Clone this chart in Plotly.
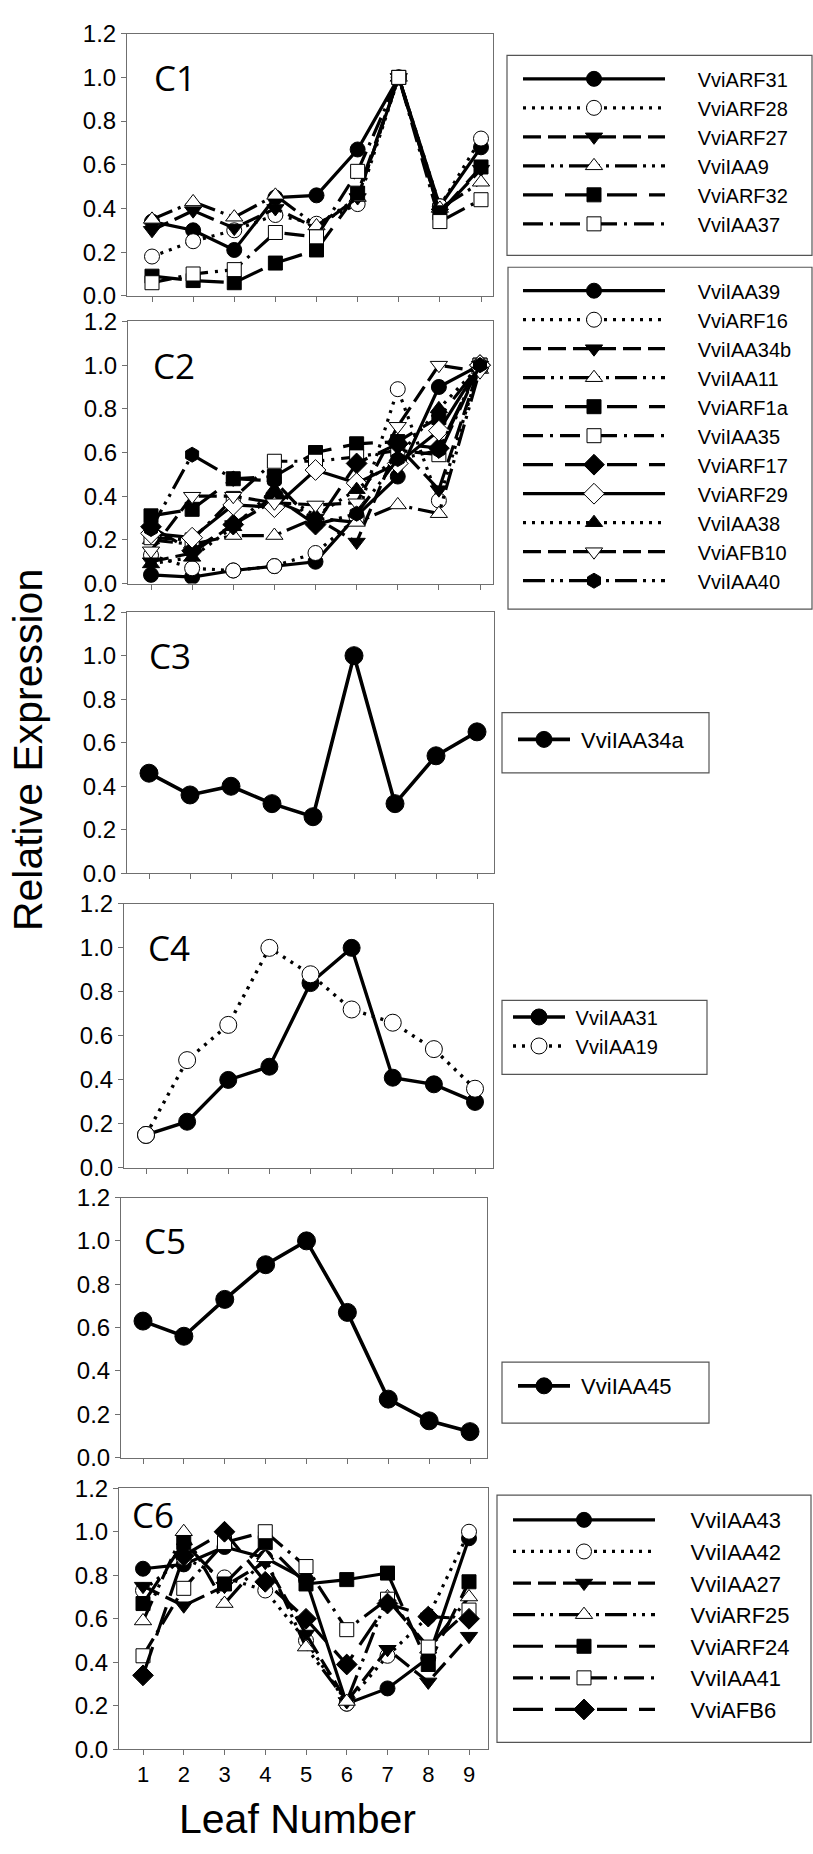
import plotly.graph_objects as go

FIG_W, FIG_H = 813, 1854

leaf_number = [1, 2, 3, 4, 5, 6, 7, 8, 9]
y_ticks = [0.0, 0.2, 0.4, 0.6, 0.8, 1.0, 1.2]

# ---- cluster C1 ----
VviARF31 = [0.34, 0.30, 0.21, 0.45, 0.46, 0.67, 1.00, 0.41, 0.68]
VviARF28 = [0.18, 0.25, 0.30, 0.37, 0.33, 0.42, 1.00, 0.41, 0.72]
VviARF27 = [0.30, 0.39, 0.31, 0.40, 0.31, 0.45, 1.00, 0.38, 0.58]
VviIAA9 = [0.35, 0.43, 0.36, 0.46, 0.32, 0.45, 1.00, 0.40, 0.52]
VviARF32 = [0.09, 0.07, 0.06, 0.15, 0.21, 0.47, 1.00, 0.38, 0.59]
VviIAA37 = [0.06, 0.10, 0.12, 0.29, 0.27, 0.57, 1.00, 0.34, 0.44]

# ---- cluster C2 ----
VviIAA39 = [0.04, 0.03, 0.06, 0.08, 0.10, 0.31, 0.49, 0.90, 1.00]
VviARF16 = [0.13, 0.07, 0.06, 0.08, 0.14, 0.30, 0.89, 0.38, 1.00]
VviIAA34b = [0.10, 0.14, 0.27, 0.38, 0.30, 0.19, 0.63, 0.43, 1.00]
VviIAA11 = [0.20, 0.18, 0.22, 0.22, 0.30, 0.28, 0.36, 0.32, 0.98]
VviARF1a = [0.31, 0.34, 0.48, 0.49, 0.60, 0.64, 0.65, 0.76, 1.00]
VviIAA35 = [0.21, 0.20, 0.39, 0.56, 0.56, 0.58, 0.61, 0.59, 1.00]
VviARF17 = [0.26, 0.15, 0.27, 0.40, 0.27, 0.55, 0.64, 0.62, 1.00]
VviARF29 = [0.23, 0.21, 0.36, 0.35, 0.52, 0.46, 0.55, 0.70, 1.00]
VviIAA38 = [0.09, 0.12, 0.26, 0.43, 0.31, 0.43, 0.58, 0.80, 1.00]
VviAFB10 = [0.15, 0.40, 0.40, 0.37, 0.36, 0.37, 0.72, 1.00, 0.97]
VviIAA40 = [0.25, 0.59, 0.48, 0.47, 0.27, 0.32, 0.57, 0.61, 1.00]

# ---- cluster C3 ----
VviIAA34a = [0.46, 0.36, 0.40, 0.32, 0.26, 1.00, 0.32, 0.54, 0.65]

# ---- cluster C4 ----
VviIAA31 = [0.15, 0.21, 0.40, 0.46, 0.84, 1.00, 0.41, 0.38, 0.30]
VviIAA19 = [0.15, 0.49, 0.65, 1.00, 0.88, 0.72, 0.66, 0.54, 0.36]

# ---- cluster C5 ----
VviIAA45 = [0.63, 0.56, 0.73, 0.89, 1.00, 0.67, 0.27, 0.17, 0.12]

# ---- cluster C6 ----
VviIAA43 = [0.83, 0.85, 0.93, 0.88, 0.78, 0.21, 0.28, 0.42, 0.97]
VviIAA42 = [0.73, 0.88, 0.79, 0.73, 0.50, 0.21, 0.43, 0.61, 1.00]
VviIAA27 = [0.75, 0.66, 0.75, 0.86, 0.53, 0.22, 0.46, 0.31, 0.52]
VviARF25 = [0.59, 1.00, 0.67, 0.88, 0.47, 0.22, 0.70, 0.46, 0.70]
VviARF24 = [0.67, 0.95, 0.76, 0.95, 0.76, 0.78, 0.81, 0.39, 0.77]
VviIAA41 = [0.43, 0.74, 0.95, 1.00, 0.84, 0.55, 0.69, 0.47, 0.64]
VviAFB6 = [0.34, 0.89, 1.00, 0.77, 0.60, 0.39, 0.67, 0.61, 0.60]

clusters = [
    ("C1", [("VviARF31", VviARF31), ("VviARF28", VviARF28), ("VviARF27", VviARF27),
            ("VviIAA9", VviIAA9), ("VviARF32", VviARF32), ("VviIAA37", VviIAA37)]),
    ("C2", [("VviIAA39", VviIAA39), ("VviARF16", VviARF16), ("VviIAA34b", VviIAA34b),
            ("VviIAA11", VviIAA11), ("VviARF1a", VviARF1a), ("VviIAA35", VviIAA35),
            ("VviARF17", VviARF17), ("VviARF29", VviARF29), ("VviIAA38", VviIAA38),
            ("VviAFB10", VviAFB10), ("VviIAA40", VviIAA40)]),
    ("C3", [("VviIAA34a", VviIAA34a)]),
    ("C4", [("VviIAA31", VviIAA31), ("VviIAA19", VviIAA19)]),
    ("C5", [("VviIAA45", VviIAA45)]),
    ("C6", [("VviIAA43", VviIAA43), ("VviIAA42", VviIAA42), ("VviIAA27", VviIAA27),
            ("VviARF25", VviARF25), ("VviARF24", VviARF24), ("VviIAA41", VviIAA41),
            ("VviAFB6", VviAFB6)]),
]

# line dash / marker symbol / hollow marker, in the order used by every cluster
DOT = "3px,6px"
DASH = "18px,7px"
DASH_DOT_DOT = "22px,6px,3px,6px,3px,6px"
LONG_DASH = "30px,12px"
DASH_DOT = "20px,7px,3px,7px"
STYLES = [
    ("solid", "circle", False),
    (DOT, "circle", True),
    (DASH, "triangle-down", False),
    (DASH_DOT_DOT, "triangle-up", True),
    (LONG_DASH, "square", False),
    (DASH_DOT, "square", True),
    (LONG_DASH, "diamond", False),
    ("solid", "diamond", True),
    (DOT, "triangle-up", False),
    (DASH, "triangle-down", True),
    (DASH_DOT_DOT, "hexagon", False),
]
MARKER_SCALE = {"circle": 1.0, "square": 0.93, "diamond": 1.08, "triangle-up": 1.0,
                "triangle-down": 1.0, "hexagon": 1.0}

# panel frames in pixels: left, right, top(1.2), bottom(0.0), x of tick 1, x of tick 9,
# marker size, line width
PANELS = [
    (127, 493, 20, 286, 152, 481, 15, 3.2),
    (128, 493, 312, 578, 151, 480, 15, 3.2),
    (127, 494, 607, 872, 149, 477, 18, 3.6),
    (124, 493, 903, 1171, 146, 475, 17, 3.4),
    (121, 487, 1201, 1465, 143, 470, 18, 3.6),
    (119, 488, 1496, 1761, 143, 469, 15, 3.2),
]

# legend: left, top, sample width, font size, padding before name, frame (x0, x1, y0, y1)
LEGENDS = [
    (518, 46, 142, 20, 5, (507, 812, 42, 245)),
    (518, 261, 142, 20, 5, (508, 812, 257, 604)),
    (513, 715, 52, 22, 1, (502, 709, 709, 770)),
    (508, 998, 52, 20, 1, (502, 707, 1001, 1076)),
    (513, 1371, 52, 22, 1, (502, 709, 1368, 1430)),
    (508, 1507, 142, 22, 5, (497, 811, 1503, 1754)),
]

LABEL_POS = [(1.0, 1.0), (1.0, 1.0), (0.95, 1.0), (1.0, 1.0), (0.98, 1.0), (0.68, 1.08)]

AXIS_COLOR = "#6f6f6f"
TXT_FONT = "Arial, Liberation Sans, sans-serif"
NBSP = "\u00a0"


def px_x(p):
    return p / FIG_W


def px_y(p):
    return 1 - p / FIG_H


fig = go.Figure()
layout = dict(
    width=FIG_W, height=FIG_H,
    margin=dict(l=0, r=0, t=0, b=0),
    paper_bgcolor="white", plot_bgcolor="white",
    showlegend=True,
    font=dict(family=TXT_FONT, color="black"),
)
annotations = []
shapes = []

for k, (label, series) in enumerate(clusters):
    idx = k + 1
    sfx = "" if idx == 1 else str(idx)
    legend_id = "legend" if idx == 1 else f"legend{idx}"
    left, right, top, bottom, t1, t9, msize, lw = PANELS[k]
    lx, ly, iw, lfs, pad, box = LEGENDS[k]
    sp = (t9 - t1) / 8
    xr = [1 - (t1 - left) / sp, 9 + (right - t9) / sp]

    for j, (name, values) in enumerate(series):
        dash, symbol, hollow = STYLES[j]
        fig.add_trace(go.Scatter(
            x=leaf_number, y=values, name=NBSP * pad + name,
            mode="lines+markers",
            xaxis="x" + sfx, yaxis="y" + sfx,
            legend=legend_id,
            line=dict(color="black", width=lw, dash=dash),
            marker=dict(symbol=symbol, size=round(msize * MARKER_SCALE[symbol]),
                        color="white" if hollow else "black",
                        line=dict(color="black", width=1)),
        ))

    common = dict(showline=True, linecolor=AXIS_COLOR, linewidth=1, mirror=True,
                  ticks="outside", ticklen=5, tickcolor=AXIS_COLOR, tickwidth=1,
                  showgrid=False, zeroline=False, fixedrange=True)
    layout["xaxis" + sfx] = dict(
        common, domain=[px_x(left), px_x(right)], range=xr,
        tickvals=leaf_number, anchor="y" + sfx,
        showticklabels=(idx == 6),
        tickfont=dict(size=22, family=TXT_FONT, color="black"),
    )
    layout["yaxis" + sfx] = dict(
        common, domain=[px_y(bottom), px_y(top)], range=[0, 1.2],
        tickvals=y_ticks, tickformat=".1f", anchor="x" + sfx,
        tickfont=dict(size=24, family=TXT_FONT, color="black"),
    )

    layout[legend_id] = dict(
        x=px_x(lx), y=px_y(ly), xanchor="left", yanchor="top",
        bgcolor="rgba(0,0,0,0)", borderwidth=0,
        font=dict(size=lfs, family=TXT_FONT, color="black"),
        itemwidth=iw, tracegroupgap=0, traceorder="normal",
    )
    bx0, bx1, by0, by1 = box
    shapes.append(dict(type="rect", xref="paper", yref="paper",
                       x0=px_x(bx0), x1=px_x(bx1), y0=px_y(by1), y1=px_y(by0),
                       line=dict(color="#555555", width=1.2)))

    ax_x, ax_y = LABEL_POS[k]
    annotations.append(dict(
        text=label, x=ax_x, y=ax_y, xref="x" + sfx, yref="y" + sfx,
        xanchor="left", yanchor="middle", showarrow=False,
        font=dict(family="Open Sans, sans-serif", size=35, color="black"),
    ))

annotations.append(dict(
    text="Relative Expression", x=px_x(28), y=px_y(747), xref="paper", yref="paper",
    textangle=-90, showarrow=False, xanchor="center", yanchor="middle",
    font=dict(family=TXT_FONT, size=41, color="black"),
))
annotations.append(dict(
    text="Leaf Number", x=px_x(297), y=px_y(1832), xref="paper", yref="paper",
    showarrow=False, xanchor="center", yanchor="middle",
    font=dict(family=TXT_FONT, size=41, color="black"),
))

layout["annotations"] = annotations
layout["shapes"] = shapes
fig.update_layout(**layout)
fig.write_html("out.html")
